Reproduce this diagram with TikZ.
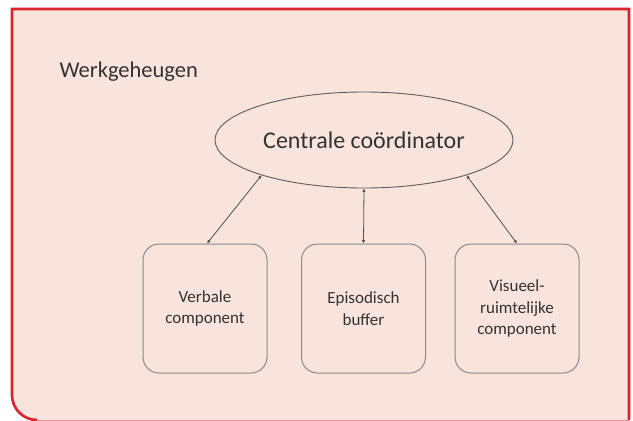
\documentclass[tikz,border=0pt]{standalone}
\usepackage{fontspec}
\setmainfont{Carlito}
\usetikzlibrary{shapes.geometric,arrows.meta}
\definecolor{bgpink}{HTML}{F8E4DC}
\definecolor{framered}{HTML}{D9232D}
\definecolor{txtgray}{HTML}{333333}
\definecolor{linegray}{HTML}{8C8888}
\tikzset{
  compbox/.style={draw=linegray, line width=1pt, rounded corners=16pt, minimum width=124pt, minimum height=129pt, inner sep=2pt, align=center, text=txtgray, font=\fontsize{17}{21.5}\selectfont},
  ellnode/.style={ellipse, draw=txtgray!80, line width=0.9pt, minimum width=298pt, minimum height=96pt, inner sep=0pt, text=txtgray, font=\fontsize{24}{28}\selectfont},
  conn/.style={draw=txtgray!85, line width=0.8pt, {Latex[length=3.5pt,width=3.5pt]}-{Latex[length=3.5pt,width=3.5pt]}}
}
\begin{document}
\begin{tikzpicture}[x=1pt,y=-1pt]
\useasboundingbox (0,0) rectangle (633,421);
\fill[white] (0,0) rectangle (633,421);
\fill[bgpink] (12,9) -- (12,395) arc (180:270:25pt) -- (629,420) -- (629,9) -- cycle;
\draw[framered, line width=2.6pt] (37,420) arc (270:180:25pt) -- (12,9) -- (629,9) -- (629,420);
\draw[framered!50, line width=0.6pt] (37,420) -- (629,420);
\node[anchor=base west, text=txtgray, font=\fontsize{22.5}{26}\selectfont] (title) at (56,77) {Werkgeheugen};
\node[ellnode] (ell) at (364,140) {Centrale coördinator};
\node[compbox] (vl) at (205,308.5) {Verbale\\component};
\node[compbox] (eb) at (363.5,308.5) {Episodisch\\buffer};
\node[compbox] (vr) at (517,308.5) {Visueel-\\ruimtelijke\\component};
\draw[conn] (ell.199) -- ([xshift=2pt]vl.north);
\draw[conn] (ell.south) -- (eb.north);
\draw[conn] (ell.341) -- (vr.north);
\end{tikzpicture}
\end{document}
